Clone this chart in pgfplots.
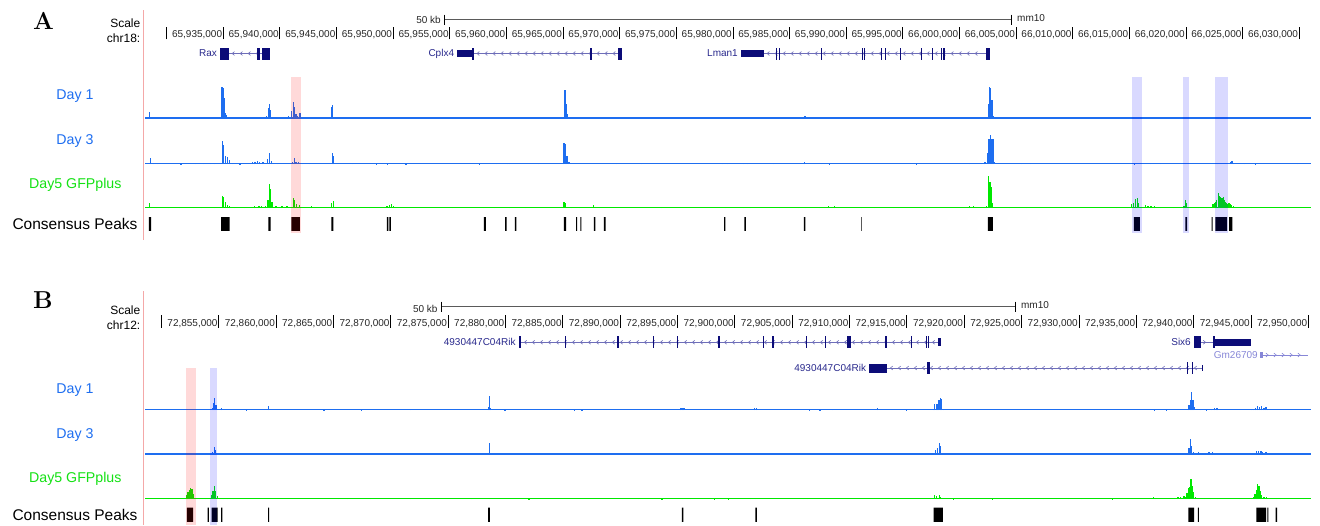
\documentclass[border=0pt]{standalone}
\usepackage{pgfplots}
\pgfplotsset{compat=1.18}
\usepackage{fontspec}
\setsansfont{Liberation Sans}
\renewcommand{\familydefault}{\sfdefault}
\usetikzlibrary{decorations.markings}

\definecolor{trkblue}{RGB}{30,110,240}
\definecolor{trkgreen}{RGB}{0,232,0}
\definecolor{lblgreen}{RGB}{20,225,20}
\definecolor{genenavy}{RGB}{12,12,120}
\definecolor{genelbl}{RGB}{40,40,140}
\definecolor{introncol}{RGB}{110,110,185}
\definecolor{lightgene}{RGB}{135,135,215}
\definecolor{pinkline}{RGB}{244,168,168}
\definecolor{scalegray}{RGB}{90,90,90}

\newcommand{\fs}[1]{\fontsize{#1}{#1}\selectfont}
\newcommand{\blk}[5][genenavy]{\fill[#1] (axis cs:#2,#4) rectangle (axis cs:#3,#5);}

\tikzset{
  lchev/.style={postaction={decorate,decoration={markings,
    mark=between positions 4pt and -3pt step 8pt with {\draw[#1,line width=0.6pt] (1.4pt,1.9pt) -- (-0.9pt,0pt) -- (1.4pt,-1.9pt);}}}},
  rchev/.style={postaction={decorate,decoration={markings,
    mark=between positions 4pt and -3pt step 8pt with {\draw[#1,line width=0.6pt] (-1.4pt,1.9pt) -- (0.9pt,0pt) -- (-1.4pt,-1.9pt);}}}},
  tl/.style={anchor=east, inner sep=0pt, xshift=-1pt, font=\fs{10}, text=black!85},
  glab/.style={anchor=east, inner sep=0pt, xshift=-3pt, font=\fs{10}, text=genelbl},
}

\pgfplotsset{
  gb/.style={scale only axis, width=1166pt, hide axis, enlargelimits=false, anchor=south west},
  gA/.style={gb, xmin=28.087, xmax=131.036},
  gB/.style={gb, xmin=48.575, xmax=150.23},
  sig/.style={ycomb, line width=1.3pt},
}

\begin{document}
\begin{tikzpicture}
\useasboundingbox (0pt,0pt) rectangle (1320pt,-525pt);

% ---------------- Panel A ----------------
\node[font=\rmfamily\bfseries\fs{24.5}] at (43.5pt,-20.5pt) {A};
\node[anchor=east, inner sep=0pt, font=\fs{12}] at (140.5pt,-23.3pt) {Scale};
\node[anchor=east, inner sep=0pt, font=\fs{12}] at (140.5pt,-38.5pt) {chr18:};
\node[font=\fs{14.2}, text=trkblue] at (75pt,-96pt) {Day 1};
\node[font=\fs{14.2}, text=trkblue] at (75pt,-140.6pt) {Day 3};
\node[font=\fs{14.2}, text=lblgreen] at (75.3pt,-185pt) {Day5 GFPplus};
\node[font=\fs{15.5}] at (75pt,-223.6pt) {Consensus Peaks};
\draw[pinkline, line width=1pt] (143.5pt,-10pt) -- (143.5pt,-240pt);

% ruler A (positions in kb relative to chr18:65,900,000)
\begin{axis}[gA, at={(145pt,-39.3pt)}, height=12.6pt, ymin=0, ymax=1, clip=false]
\addplot[ycomb, black, line width=0.9pt] coordinates {(30,1)(35,1)(40,1)(45,1)(50,1)(55,1)(60,1)(65,1)(70,1)(75,1)(80,1)(85,1)(90,1)(95,1)(100,1)(105,1)(110,1)(115,1)(120,1)(125,1)(130,1)};
\pgfplotsinvokeforeach{35,40,45,50,55,60,65,70,75,80,85,90,95}{\node[tl] at (axis cs:#1,0.35) {65,9#1,000};}
\pgfplotsinvokeforeach{00,05,10,15,20,25,30}{\node[tl] at (axis cs:1#1,0.35) {66,0#1,000};}
\end{axis}

% Day 1 A
\begin{axis}[gA, at={(145pt,-118.9pt)}, height=33pt, ymin=0, ymax=33]
\addplot[trkblue, line width=1.5pt] coordinates {(28.087,0.75) (131.036,0.75)};
\addplot[sig, trkblue] coordinates {(28.47,7.3) (30.09,1) (33.12,1) (34.36,2) (34.89,32) (34.97,30.7) (35.06,21) (35.18,6) (35.30,4) (35.48,2) (35.83,1) (36.98,1.5) (37.95,1.5) (38.3,1.2) (38.53,1.5) (38.83,3) (38.97,11.3) (39.06,15.3) (39.15,9) (39.41,1) (40.16,1) (40.77,3) (41.04,8) (41.18,17) (41.30,12) (41.42,5) (41.57,3) (41.77,6) (42.74,1) (44.57,12) (44.66,14) (46.48,1) (49.57,0.7) (51.72,0.7) (60.02,2) (65.11,28.7) (65.20,29.3) (65.28,14.7) (65.41,5) (66.14,2) (66.64,1) (68.41,1) (70.26,0.8) (71.35,0.8) (79.50,0.8) (81.12,1.5) (85.54,0.8) (86.36,2.5) (95.48,0.8) (97.19,0.8) (100.87,2) (101.57,1) (101.93,1) (102.28,2) (102.54,14.7) (102.63,32) (102.76,30.7) (102.87,19.3) (102.99,3) (105.49,1) (106.23,1) (113.35,0.8) (123.95,1.5) (124.09,2)};
\end{axis}

% Day 3 A
\begin{axis}[gA, at={(145pt,-164.2pt)}, height=33pt, ymin=0, ymax=33]
\addplot[trkblue, line width=1.5pt] coordinates {(28.087,0.75) (131.036,0.75)};
\addplot[sig, trkblue] coordinates {(28.56,6.6) (28.85,1.5) (29.22,1) (31.27,0.7) (32.56,1) (33.30,1.5) (33.86,1) (34.23,1.5) (34.90,23.3) (35.02,19.3) (35.17,8) (35.35,7) (35.54,4) (35.83,1.5) (36.47,0.7) (37.58,2) (37.8,2) (38.03,3) (38.2,2) (38.51,2) (38.89,5) (39.11,11.3) (39.26,3) (39.81,1.5) (41.11,2) (41.26,6) (41.41,2) (41.67,2.5) (42.04,1) (42.59,1) (44.64,11.3) (44.76,8) (46.43,1) (48.54,0.7) (49.47,0.7) (51.14,0.7) (57.65,0.7) (59.13,1) (60.07,1.5) (60.25,1.5) (62.85,1) (65.08,21) (65.19,20) (65.34,8) (65.52,2) (69.73,1) (71.95,0.8) (79.12,1.5) (79.56,1.5) (80.97,1.5) (81.33,1.5) (83.59,1) (86.31,2) (87.79,1) (88.50,0.7) (96.22,0.7) (100.87,1) (101.99,1.5) (102.25,2.5) (102.51,11.6) (102.61,25) (102.73,29.3) (102.84,25) (102.95,25) (103.06,2) (105.52,1) (106.26,1.5) (115.43,0.7) (116.85,1) (117.77,1) (120.01,1.5) (122.80,1) (123.91,2) (124.06,3) (124.17,1.5) (125.14,1) (126.14,0.7) (129.85,1)};
\end{axis}

% Day5 GFPplus A
\begin{axis}[gA, at={(145pt,-208.2pt)}, height=33pt, ymin=0, ymax=33]
\addplot[trkgreen, line width=1.5pt] coordinates {(28.087,0.75) (131.036,0.75)};
\addplot[sig, trkgreen] coordinates {(28.51,5.6) (29.11,1) (30.15,1) (31.18,1.5) (32.41,1) (33.12,1) (34.23,1.5) (34.90,12.3) (35.02,11.3) (35.17,6) (35.35,3) (35.57,2) (36.03,1) (36.92,1.5) (37.76,2) (38.15,2) (38.40,2) (38.70,2) (38.96,8) (39.07,24) (39.18,19) (39.29,6) (39.65,2) (40.18,2) (40.62,2) (41.19,10.6) (41.30,8) (41.48,4) (41.75,3) (42.78,2) (44.56,5) (44.71,7.3) (46.63,1) (47.95,1.5) (49.45,2) (49.67,3) (49.88,4) (50.03,2) (55.23,1) (58.02,1.5) (58.99,1.5) (60.31,1.5) (61.73,1.5) (65.08,6.6) (65.19,5) (65.79,1.5) (66.49,1.5) (67.68,3) (68.26,1.5) (73.73,1) (79.31,1.5) (80.97,1.5) (81.55,1.5) (84.15,1) (85.82,1.5) (86.38,1.5) (87.68,1) (88.43,2) (88.98,2) (91.32,1.5) (92.50,1.5) (94.18,1) (94.62,1) (97.16,1) (100.87,2) (101.24,2) (102.36,2) (102.58,32.3) (102.69,26.6) (102.80,21.3) (102.91,5) (104.40,1) (105.96,1.5) (113.87,1.5) (114.81,1.5) (115.18,4) (115.36,5.6) (115.55,9.3) (115.70,10.6) (115.81,5) (116.11,1) (116.41,3) (116.64,2) (116.91,2) (117.22,2) (117.77,1.5) (118.90,1) (119.82,2) (119.94,8.3) (120.04,5) (120.31,1) (121.12,1.5) (121.86,1.5) (122.31,4) (122.42,4.5) (122.53,5) (122.62,6) (122.72,8) (122.87,15) (122.98,12) (123.07,11) (123.17,10) (123.24,9) (123.31,11) (123.39,8) (123.47,6) (123.54,5) (123.61,4) (123.70,4.5) (123.80,5) (123.89,4) (123.98,3) (124.17,2) (124.84,1.5) (125.84,1) (128.67,1)};
\end{axis}

% Consensus peaks A (1 = peak, -0.2 = no peak (clipped), held until next position)
\begin{axis}[gA, at={(145pt,-230pt)}, height=13pt, ymin=0, ymax=1]
\addplot[const plot, fill=black, draw=none] coordinates {(28.087,-0.2) (28.44,1)(28.62,-0.2) (34.80,1)(35.55,-0.2) (38.99,1)(39.17,-0.2) (41.02,1)(41.77,-0.2) (44.55,1)(44.73,-0.2) (49.44,1)(49.57,-0.2) (49.67,1)(49.80,-0.2) (58.00,1)(58.18,-0.2) (59.89,1)(60.02,-0.2) (60.75,1)(60.88,-0.2) (65.06,1)(65.28,-0.2) (66.15,1)(66.24,-0.2) (66.52,1)(66.61,-0.2) (67.73,1)(67.86,-0.2) (68.61,1)(68.75,-0.2) (79.21,1)(79.34,-0.2) (81.00,1)(81.13,-0.2) (86.27,1)(86.40,-0.2) (91.33,1)(91.39,-0.2) (102.51,1)(102.95,-0.2) (115.40,1)(115.92,-0.2) (119.94,1)(120.09,-0.2) (122.27,1)(122.36,-0.2) (122.60,1)(123.64,-0.2) (123.80,1)(124.10,-0.2) (131.036,-0.2)} -- cycle;
\end{axis}

% ---------------- Panel B ----------------
\node[font=\rmfamily\bfseries\fs{24.5}] at (43pt,-300pt) {B};
\node[anchor=east, inner sep=0pt, font=\fs{12}] at (140.5pt,-310pt) {Scale};
\node[anchor=east, inner sep=0pt, font=\fs{12}] at (140.5pt,-325pt) {chr12:};
\node[font=\fs{14.2}, text=trkblue] at (75pt,-390.3pt) {Day 1};
\node[font=\fs{14.2}, text=trkblue] at (75pt,-435pt) {Day 3};
\node[font=\fs{14.2}, text=lblgreen] at (75.3pt,-479.3pt) {Day5 GFPplus};
\node[font=\fs{15.5}] at (75pt,-515.3pt) {Consensus Peaks};
\draw[pinkline, line width=1pt] (143.5pt,-291pt) -- (143.5pt,-525pt);

% ruler B (positions in kb relative to chr12:72,800,000)
\begin{axis}[gB, at={(145pt,-327.7pt)}, height=12.7pt, ymin=0, ymax=1, clip=false]
\addplot[ycomb, black, line width=0.9pt] coordinates {(50,1)(55,1)(60,1)(65,1)(70,1)(75,1)(80,1)(85,1)(90,1)(95,1)(100,1)(105,1)(110,1)(115,1)(120,1)(125,1)(130,1)(135,1)(140,1)(145,1)(150,1)};
\pgfplotsinvokeforeach{55,60,65,70,75,80,85,90,95}{\node[tl] at (axis cs:#1,0.35) {72,8#1,000};}
\pgfplotsinvokeforeach{00,05,10,15,20,25,30,35,40,45,50}{\node[tl] at (axis cs:1#1,0.35) {72,9#1,000};}
\end{axis}

% Day 1 B
\begin{axis}[gB, at={(145pt,-410.2pt)}, height=33pt, ymin=0, ymax=33]
\addplot[trkblue, line width=1.5pt] coordinates {(48.575,0.75) (150.23,0.75)};
\addplot[sig, trkblue] coordinates {(54.46,2) (54.54,7.6) (54.64,12.6) (54.76,5) (54.94,1) (55.27,2) (57.40,0.7) (59.34,4.3) (64.18,0.7) (67.42,0.7) (71.71,1) (78.50,3) (78.61,14.3) (78.71,2) (79.96,0.7) (86.02,0.7) (86.67,0.7) (95.31,2.5) (95.44,2.5) (95.57,2) (101.73,2.5) (101.91,2) (106.50,0.7) (107.42,0.7) (108.52,1) (112.45,2) (114.94,0.7) (117.33,1) (117.43,6) (117.56,6) (117.69,6) (117.80,10) (117.91,12.3) (118.03,11) (118.17,1) (136.59,0.7) (137.62,0.7) (139.59,5) (139.71,10) (139.82,18.6) (139.93,10) (140.04,3) (140.62,1) (141.10,0.7) (141.55,1.5) (141.84,2.5) (141.97,2.5) (142.10,2.5) (145.03,1) (145.21,1.5) (145.39,2) (145.58,4.5) (145.76,3) (145.94,4.3) (146.12,2.5) (146.31,3) (146.46,1)};
\end{axis}

% Day 3 B
\begin{axis}[gB, at={(145pt,-454.9pt)}, height=33pt, ymin=0, ymax=33]
\addplot[trkblue, line width=1.5pt] coordinates {(48.575,0.75) (150.23,0.75)};
\addplot[sig, trkblue] coordinates {(50.80,0.7) (52.56,1.5) (53.18,0.7) (53.73,0.7) (54.21,1.5) (54.46,3) (54.61,8) (54.72,5) (54.87,2) (55.75,1) (56.30,1) (57.40,1) (59.34,1.5) (60.89,0.7) (63.08,0.7) (71.16,0.7) (71.78,1.5) (78.50,2) (78.61,11.7) (78.71,2) (79.59,1.5) (79.96,1.5) (86.75,0.7) (91.60,1) (95.49,1.5) (101.00,1) (101.48,1.5) (101.70,2) (101.91,1.5) (106.94,0.7) (112.38,0.7) (117.03,1) (117.25,2) (117.51,5) (117.69,7) (117.84,11.7) (117.95,9) (118.13,1) (120.63,1) (120.81,1) (121.80,0.7) (125.10,0.7) (131.27,0.7) (134.57,1) (137.50,1.5) (137.94,1.5) (139.46,2) (139.59,7) (139.71,15.7) (139.82,9) (139.97,3) (140.44,3) (140.73,2) (141.35,2.5) (141.64,2.5) (142.10,2) (145.03,1.5) (145.28,2) (145.50,3.5) (145.68,3.5) (145.87,4) (146.02,3) (146.20,2) (146.31,2.5) (146.50,1) (147.12,1.5) (147.60,1.5)};
\end{axis}

% Day5 GFPplus B
\begin{axis}[gB, at={(145pt,-499.2pt)}, height=33pt, ymin=0, ymax=33]
\addplot[trkgreen, line width=1.5pt] coordinates {(48.575,0.75) (150.23,0.75)};
\addplot[sig, trkgreen] coordinates {(50.17,1) (50.61,0.8) (52.18,4) (52.33,7) (52.45,9) (52.56,11.6) (52.66,10) (52.78,5) (53.36,1) (53.84,1) (54.39,4) (54.50,8) (54.61,13.3) (54.72,8) (54.87,3) (55.09,1) (55.46,1) (55.81,1) (56.30,1) (65.47,1) (66.20,1) (68.23,1) (71.71,1) (77.03,1) (78.61,1) (82.05,0.7) (91.60,1.5) (93.66,0.7) (96.12,1) (98.24,0.7) (99.46,0.7) (101.36,1.5) (101.84,1.5) (106.03,1) (106.39,1) (117.03,1.5) (117.40,4) (117.55,3) (117.84,4) (117.95,2) (119.05,0.7) (121.07,1) (122.46,0.7) (123.99,1) (124.60,1) (125.21,1) (126.94,1) (128.04,1) (129.14,1) (130.24,1) (132.92,0.7) (136.48,2.5) (136.70,1.5) (138.31,1.5) (138.64,2) (138.86,2.5) (139.16,3) (139.34,2) (139.42,6) (139.56,11) (139.67,12.3) (139.78,20) (139.89,13) (140.00,7) (140.15,2) (140.44,1.5) (140.99,1.5) (141.51,1.5) (142.10,1.5) (144.04,1) (145.03,1.5) (145.21,2) (145.36,5) (145.47,9) (145.58,15) (145.69,13) (145.80,8) (145.94,4) (146.13,2) (146.35,2) (147.23,1) (147.60,1) (147.89,1) (149.61,1.5)};
\end{axis}

% Consensus peaks B
\begin{axis}[gB, at={(145pt,-521pt)}, height=13.3pt, ymin=0, ymax=1]
\addplot[const plot, fill=black, draw=none] coordinates {(48.575,-0.2) (52.23,1)(52.78,-0.2) (54.03,1)(54.15,-0.2) (54.39,1)(54.90,-0.2) (55.22,1)(55.33,-0.2) (59.30,1)(59.40,-0.2) (78.49,1)(78.65,-0.2) (95.39,1)(95.52,-0.2) (101.78,1)(101.91,-0.2) (117.33,1)(118.13,-0.2) (139.53,1)(140.04,-0.2) (140.36,1)(140.45,-0.2) (145.47,1)(146.31,-0.2) (146.42,1)(146.51,-0.2) (147.14,1)(147.27,-0.2) (150.23,-0.2)} -- cycle;
\end{axis}

% ---------------- Frame A: scale bar, genes, highlights ----------------
\begin{axis}[gA, anchor=north west, at={(145pt,0pt)}, height=525pt, ymin=0, ymax=525, y dir=reverse, clip=false]
\addplot[scalegray, line width=0.9pt] coordinates {(54.57,19.5) (104.55,19.5)};
\addplot[black, line width=0.9pt] coordinates {(54.57,14.5) (54.57,24.5)};
\addplot[black, line width=0.9pt] coordinates {(104.55,14.5) (104.55,24.5)};
\node[anchor=east, inner sep=0pt, xshift=-4pt, font=\fs{10}, text=black!85] at (axis cs:54.57,20) {50 kb};
\node[anchor=west, inner sep=0pt, xshift=6pt, font=\fs{10}, text=black!85] at (axis cs:104.55,18.3) {mm10};
% Rax
\node[glab] at (axis cs:34.71,53.5) {Rax};
\draw[introncol, line width=0.8pt, lchev=introncol] (axis cs:35.51,53.5) -- (axis cs:38.42,53.5);
\blk{34.71}{35.51}{47.5}{59.5}
\blk{37.98}{38.24}{47.5}{59.5}
\blk{38.42}{39.12}{47.5}{59.5}
% Cplx4
\node[glab] at (axis cs:55.66,53.5) {Cplx4};
\draw[introncol, line width=0.8pt, lchev=introncol] (axis cs:57.13,53.5) -- (axis cs:69.88,53.5);
\blk{55.66}{56.93}{49.5}{57.3}
\blk{56.93}{57.13}{47.5}{59.5}
\blk{67.40}{67.53}{47.5}{59.5}
\blk{69.88}{70.18}{47.5}{59.5}
% Lman1
\node[glab] at (axis cs:80.71,53.5) {Lman1};
\draw[introncol, line width=0.8pt, lchev=introncol] (axis cs:82.74,53.5) -- (axis cs:102.34,53.5);
\blk{80.71}{82.74}{49.5}{57.3}
\blk{83.83}{83.93}{47.5}{59.5}
\blk{84.06}{84.18}{47.5}{59.5}
\blk{87.80}{87.90}{47.5}{59.5}
\blk{91.37}{91.45}{47.5}{59.5}
\blk{91.54}{91.70}{47.5}{59.5}
\blk{93.07}{93.20}{47.5}{59.5}
\blk{93.42}{93.55}{47.5}{59.5}
\blk{94.75}{94.88}{47.5}{59.5}
\blk{96.60}{96.73}{47.5}{59.5}
\blk{97.60}{97.68}{47.5}{59.5}
\blk{98.37}{98.46}{47.5}{59.5}
\blk{98.52}{98.69}{47.5}{59.5}
\blk{102.34}{102.67}{47.5}{59.5}
% highlights
\fill[red, opacity=0.15] (axis cs:40.95,77) rectangle (axis cs:41.83,233);
\fill[blue, opacity=0.15] (axis cs:115.20,77) rectangle (axis cs:116.11,233);
\fill[blue, opacity=0.15] (axis cs:119.73,77) rectangle (axis cs:120.26,233);
\fill[blue, opacity=0.15] (axis cs:122.57,77) rectangle (axis cs:123.69,233);
\end{axis}

% ---------------- Frame B ----------------
\begin{axis}[gB, anchor=north west, at={(145pt,0pt)}, height=525pt, ymin=0, ymax=525, y dir=reverse, clip=false]
\addplot[scalegray, line width=0.9pt] coordinates {(74.44,306.7) (124.42,306.7)};
\addplot[black, line width=0.9pt] coordinates {(74.44,301.7) (74.44,311.7)};
\addplot[black, line width=0.9pt] coordinates {(124.42,301.7) (124.42,311.7)};
\node[anchor=east, inner sep=0pt, xshift=-4pt, font=\fs{10}, text=black!85] at (axis cs:74.44,308.5) {50 kb};
\node[anchor=west, inner sep=0pt, xshift=6pt, font=\fs{10}, text=black!85] at (axis cs:124.42,305.3) {mm10};
% 4930447C04Rik (row 1)
\node[glab] at (axis cs:81.16,342.3) {4930447C04Rik};
\draw[introncol, line width=0.8pt, lchev=introncol] (axis cs:81.38,342.3) -- (axis cs:117.74,342.3);
\blk{81.16}{81.38}{336.3}{348.3}
\blk{85.22}{85.32}{336.3}{348.3}
\blk{89.74}{89.88}{336.3}{348.3}
\blk{92.84}{92.98}{336.3}{348.3}
\blk{94.93}{95.03}{336.3}{348.3}
\blk{98.52}{98.60}{336.3}{348.3}
\blk{98.64}{98.72}{336.3}{348.3}
\blk{102.43}{102.51}{336.3}{348.3}
\blk{103.25}{103.37}{336.3}{348.3}
\blk{106.21}{106.31}{336.3}{348.3}
\blk{107.87}{107.97}{336.3}{348.3}
\blk{109.82}{109.92}{336.3}{348.3}
\blk{109.99}{110.09}{336.3}{348.3}
\blk{113.13}{113.23}{336.3}{348.3}
\blk{115.37}{115.47}{336.3}{348.3}
\blk{116.68}{116.77}{336.3}{348.3}
\blk{116.83}{116.92}{336.3}{348.3}
\blk{117.74}{117.95}{338.3}{346.3}
% Six6
\node[glab] at (axis cs:140.03,342.3) {Six6};
\draw[introncol, line width=0.8pt, rchev=introncol] (axis cs:140.61,342.3) -- (axis cs:141.69,342.3);
\blk{140.03}{140.61}{336.3}{348.3}
\blk{141.69}{141.86}{336.3}{348.3}
\blk{141.86}{144.97}{338.5}{346.1}
% Gm26709
\node[glab, xshift=1pt, text=lightgene] at (axis cs:145.78,355) {Gm26709};
\draw[lightgene, line width=0.8pt, rchev=lightgene] (axis cs:146.07,355) -- (axis cs:150.00,355);
\blk[lightgene]{145.78}{146.07}{351.7}{358.3}
% 4930447C04Rik (row 2)
\node[glab] at (axis cs:111.72,368) {4930447C04Rik};
\draw[introncol, line width=0.8pt, lchev=introncol] (axis cs:113.29,368) -- (axis cs:140.79,368);
\blk{111.72}{113.29}{363.5}{372.5}
\blk{116.73}{116.83}{362}{374}
\blk{116.87}{116.97}{362}{374}
\blk{139.42}{139.52}{362}{374}
\blk{139.83}{139.93}{362}{374}
\blk{140.72}{140.80}{365}{371}
% highlights
\fill[red, opacity=0.15] (axis cs:52.15,368) rectangle (axis cs:53.02,525);
\fill[blue, opacity=0.15] (axis cs:54.28,368) rectangle (axis cs:54.87,525);
\end{axis}

\end{tikzpicture}
\end{document}
